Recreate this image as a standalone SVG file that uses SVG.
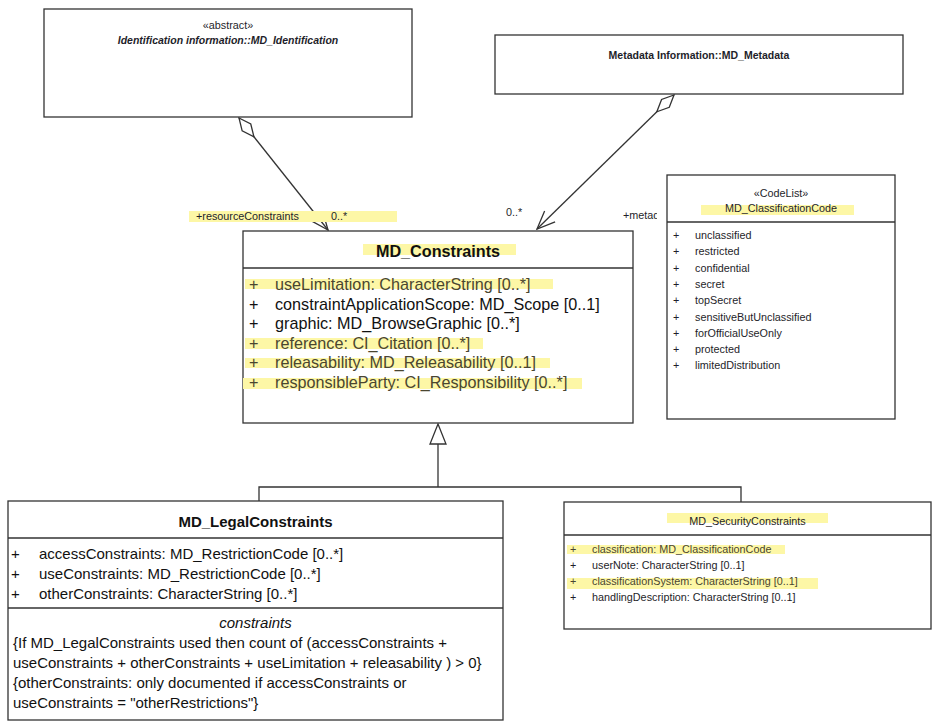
<svg xmlns="http://www.w3.org/2000/svg" width="939" height="727" viewBox="0 0 939 727">
<style>
.box{fill:#fff;stroke:#333;stroke-width:1.3}
.sep{stroke:#333;stroke-width:1.3}
.hl{fill:#fdf7a6}
.s{font-family:"Liberation Sans",Arial,sans-serif;font-size:10.8px;fill:#1e1e2a}
.sb{font-family:"Liberation Sans",Arial,sans-serif;font-size:10.5px;font-weight:bold;fill:#1e1e2a}
.a16{font-family:"Liberation Sans",Arial,sans-serif;font-size:16.2px;fill:#111}
.a15{font-family:"Liberation Sans",Arial,sans-serif;font-size:15px;fill:#111}
.hlt{fill:#4a4630}
.conn{fill:none;stroke:#333;stroke-width:1.3}
</style>
<defs>
<marker id="diamond" markerUnits="userSpaceOnUse" viewBox="-2 -8 28 16" markerWidth="28" markerHeight="16" refX="0" refY="0" orient="auto">
<path d="M0,0 L12,-5.5 L24,0 L12,5.5 Z" fill="#fff" stroke="#333" stroke-width="1.3"/>
</marker>
<marker id="open" markerUnits="userSpaceOnUse" viewBox="-20 -10 22 20" markerWidth="22" markerHeight="20" refX="0" refY="0" orient="auto">
<path d="M-18,-7.5 L0,0 L-18,7.5" fill="none" stroke="#333" stroke-width="1.3"/>
</marker>
<clipPath id="clipMeta"><rect x="600" y="200" width="57" height="30"/></clipPath>
</defs>

<g id="connectors">
<path class="conn" d="M239,118 L328,230" marker-start="url(#diamond)" marker-end="url(#open)"/>
<path class="conn" d="M674,95 L537,229" marker-start="url(#diamond)" marker-end="url(#open)"/>
<path class="conn" d="M259,501 L259,487 L741,487 L741,502"/>
<path class="conn" d="M438,487 L438,444"/>
<path d="M438,424 L446,444 L430,444 Z" fill="#fff" stroke="#333" stroke-width="1.3"/>
<rect class="hl" x="189" y="211" width="208" height="11"/>
<text class="s" x="196" y="220">+resourceConstraints</text>
<text class="s" x="331" y="220">0..*</text>
<text class="s" x="506" y="216">0..*</text>
<text class="s" x="623" y="219" clip-path="url(#clipMeta)">+metadataConstraints</text>
</g>

<g id="MD_Identification">
<rect class="box" x="44" y="9" width="368" height="108"/>
<text class="s" x="228" y="29" text-anchor="middle">«abstract»</text>
<text class="sb" x="228" y="44" text-anchor="middle" font-style="italic">Identification information::MD_Identification</text>
</g>

<g id="MD_Metadata">
<rect class="box" x="495" y="35" width="408" height="59"/>
<text class="sb" x="699" y="59" text-anchor="middle">Metadata Information::MD_Metadata</text>
</g>

<g id="MD_ClassificationCode">
<rect class="box" x="667" y="175" width="228" height="244"/>
<line class="sep" x1="667" y1="222" x2="895" y2="222"/>
<text class="s" x="781" y="197" text-anchor="middle">«CodeList»</text>
<rect class="hl" x="701" y="205" width="153" height="10"/>
<text class="s" x="781" y="212" text-anchor="middle">MD_ClassificationCode</text>
<g class="s">
<text x="673" y="239">+</text><text x="695" y="239">unclassified</text>
<text x="673" y="255.3">+</text><text x="695" y="255.3">restricted</text>
<text x="673" y="271.6">+</text><text x="695" y="271.6">confidential</text>
<text x="673" y="287.9">+</text><text x="695" y="287.9">secret</text>
<text x="673" y="304.2">+</text><text x="695" y="304.2">topSecret</text>
<text x="673" y="320.5">+</text><text x="695" y="320.5">sensitiveButUnclassified</text>
<text x="673" y="336.8">+</text><text x="695" y="336.8">forOfficialUseOnly</text>
<text x="673" y="353.1">+</text><text x="695" y="353.1">protected</text>
<text x="673" y="369.4">+</text><text x="695" y="369.4">limitedDistribution</text>
</g>
</g>

<g id="MD_Constraints">
<rect class="box" x="243" y="231" width="390" height="192"/>
<line class="sep" x1="243" y1="268" x2="633" y2="268"/>
<rect class="hl" x="363" y="244" width="153" height="11"/>
<text class="a16" x="438" y="257" text-anchor="middle" font-weight="bold">MD_Constraints</text>
<rect class="hl" x="245" y="279" width="308" height="10"/>
<rect class="hl" x="245" y="338" width="238" height="11"/>
<rect class="hl" x="245" y="358" width="305" height="10"/>
<rect class="hl" x="243" y="378" width="339" height="11"/>
<g class="a16">
<text class="hlt" x="249" y="290">+</text><text class="hlt" x="275" y="290">useLimitation: CharacterString [0..*]</text>
<text x="249" y="309.6">+</text><text x="275" y="309.6">constraintApplicationScope: MD_Scope [0..1]</text>
<text x="249" y="329.2">+</text><text x="275" y="329.2">graphic: MD_BrowseGraphic [0..*]</text>
<text class="hlt" x="249" y="348.8">+</text><text class="hlt" x="275" y="348.8">reference: CI_Citation [0..*]</text>
<text class="hlt" x="249" y="368.4">+</text><text class="hlt" x="275" y="368.4">releasability: MD_Releasability [0..1]</text>
<text class="hlt" x="249" y="388">+</text><text class="hlt" x="275" y="388">responsibleParty: CI_Responsibility [0..*]</text>
</g>
</g>

<g id="MD_LegalConstraints">
<rect class="box" x="8" y="501" width="495" height="219"/>
<line class="sep" x1="8" y1="538" x2="503" y2="538"/>
<line class="sep" x1="8" y1="608" x2="503" y2="608"/>
<text class="a15" x="255.5" y="527" text-anchor="middle" font-weight="bold">MD_LegalConstraints</text>
<g class="a15">
<text x="11" y="559">+</text><text x="39" y="559">accessConstraints: MD_RestrictionCode [0..*]</text>
<text x="11" y="579">+</text><text x="39" y="579">useConstraints: MD_RestrictionCode [0..*]</text>
<text x="11" y="599">+</text><text x="39" y="599">otherConstraints: CharacterString [0..*]</text>
<text x="255.5" y="628" text-anchor="middle" font-style="italic">constraints</text>
<text x="13" y="648">{If MD_LegalConstraints used then count of (accessConstraints +</text>
<text x="13" y="668">useConstraints + otherConstraints + useLimitation + releasability ) &gt; 0}</text>
<text x="13" y="688">{otherConstraints: only documented if accessConstraints or</text>
<text x="13" y="708">useConstraints = "otherRestrictions"}</text>
</g>
</g>

<g id="MD_SecurityConstraints">
<rect class="box" x="564" y="502" width="367" height="127"/>
<line class="sep" x1="564" y1="535" x2="931" y2="535"/>
<rect class="hl" x="667" y="513" width="161" height="10"/>
<text class="s" x="747.5" y="525" text-anchor="middle">MD_SecurityConstraints</text>
<rect class="hl" x="567" y="545" width="218" height="9"/>
<rect class="hl" x="567" y="578" width="251" height="11"/>
<g class="s">
<text class="hlt" x="570" y="553">+</text><text class="hlt" x="592" y="553">classification: MD_ClassificationCode</text>
<text x="570" y="569">+</text><text x="592" y="569">userNote: CharacterString [0..1]</text>
<text class="hlt" x="570" y="585">+</text><text class="hlt" x="592" y="585">classificationSystem: CharacterString [0..1]</text>
<text x="570" y="601">+</text><text x="592" y="601">handlingDescription: CharacterString [0..1]</text>
</g>
</g>
</svg>
